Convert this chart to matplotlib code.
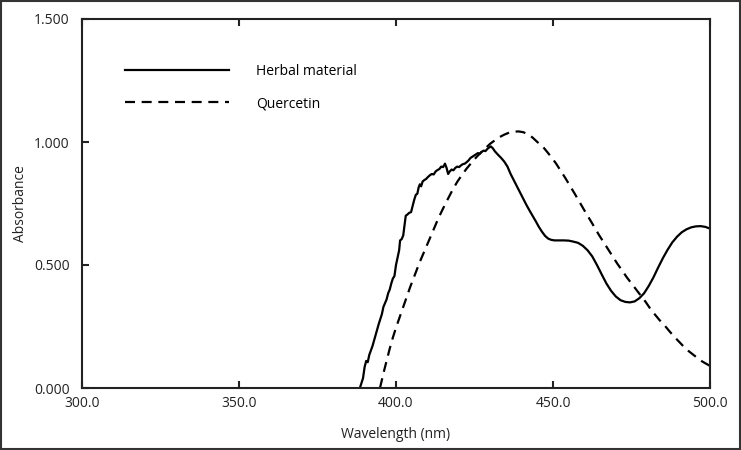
import matplotlib
matplotlib.use('Agg')
import matplotlib.pyplot as plt
from matplotlib.patches import Rectangle

plt.rcParams['font.family'] = ['Open Sans', 'DejaVu Sans']

# Herbal material spectrum
herbal_nm = [388.5, 389.5, 390.0, 390.5, 391.0, 391.5, 392.5, 393.5, 394.5, 395.5,
             396.0, 397.0, 397.5, 398.0, 398.5, 399.0, 399.5, 400.0, 400.5, 401.0,
             401.3, 401.8, 402.3, 402.7, 403.1, 403.6, 404.2, 404.8, 405.3, 405.8,
             406.3, 406.8, 407.2, 407.6, 408.0, 408.5, 409.0, 409.6, 410.2, 410.8,
             411.4, 412.0, 412.6, 413.2, 413.8, 414.4, 415.0, 415.6, 416.1, 416.6,
             417.1, 417.7, 418.3, 418.9, 419.5, 420.1, 420.7, 421.3, 421.9, 422.5,
             423.1, 423.7, 424.3, 424.9, 425.5, 426.1, 426.7, 427.3, 427.9, 428.5,
             429.1, 429.7, 430.2, 430.8, 431.5, 432.5, 433.5, 434.5, 435.5, 436.5,
             437.5, 438.5, 439.5, 440.5, 441.5, 442.5, 443.5, 444.5, 445.5, 446.5,
             447.5, 448.5, 449.5, 450.5, 452.0, 453.5, 455.0, 456.5, 458.0, 459.5,
             461.0, 462.5, 464.0, 465.5, 467.0, 468.5, 470.0, 471.5, 473.0, 474.5,
             476.0, 477.5, 479.0, 480.5, 482.0, 483.5, 485.0, 486.5, 488.0, 489.5,
             491.0, 492.5, 494.0, 495.5, 497.0, 498.5, 500.0]
herbal_abs = [0.000, 0.040, 0.085, 0.110, 0.105, 0.135, 0.170, 0.215, 0.260, 0.300,
              0.330, 0.360, 0.385, 0.400, 0.425, 0.445, 0.455, 0.500, 0.530, 0.560,
              0.600, 0.605, 0.620, 0.660, 0.700, 0.705, 0.712, 0.715, 0.740, 0.765,
              0.785, 0.790, 0.815, 0.828, 0.820, 0.840, 0.845, 0.850, 0.858, 0.865,
              0.870, 0.868, 0.880, 0.886, 0.890, 0.900, 0.898, 0.912, 0.895, 0.870,
              0.880, 0.888, 0.885, 0.895, 0.900, 0.898, 0.905, 0.910, 0.912, 0.918,
              0.925, 0.935, 0.940, 0.945, 0.950, 0.955, 0.952, 0.960, 0.965, 0.963,
              0.972, 0.978, 0.982, 0.975, 0.962, 0.948, 0.935, 0.920, 0.900, 0.870,
              0.845, 0.820, 0.795, 0.770, 0.745, 0.722, 0.700, 0.678, 0.655, 0.635,
              0.618, 0.607, 0.602, 0.600, 0.600, 0.600, 0.599, 0.595, 0.590, 0.578,
              0.560, 0.535, 0.500, 0.462, 0.425, 0.395, 0.372, 0.357, 0.350, 0.348,
              0.352, 0.365, 0.385, 0.415, 0.450, 0.490, 0.528, 0.562, 0.592, 0.615,
              0.633, 0.645, 0.653, 0.657, 0.658, 0.655, 0.648]

# Quercetin spectrum
querc_nm = [394.9, 396.0, 397.0, 398.0, 399.0, 400.0, 401.5, 403.0, 404.5, 406.0,
            407.5, 409.0, 410.5, 412.0, 413.5, 415.0, 416.5, 418.0, 419.5, 421.0,
            422.5, 424.0, 425.5, 427.0, 428.5, 430.0, 431.5, 433.0, 434.5, 436.0,
            437.5, 439.0, 440.5, 442.0, 443.5, 445.0, 446.5, 448.0, 449.5, 451.0,
            452.5, 454.0, 455.5, 457.0, 458.5, 460.0, 461.5, 463.0, 464.5, 466.0,
            467.5, 469.0, 470.5, 472.0, 473.5, 475.0, 476.5, 478.0, 479.5, 481.0,
            482.5, 484.0, 485.5, 487.0, 488.5, 490.0, 491.5, 493.0, 494.5, 496.0,
            497.5, 499.0, 500.0]
querc_abs = [0.000, 0.060, 0.110, 0.160, 0.205, 0.245, 0.300, 0.355, 0.410, 0.460,
             0.510, 0.555, 0.600, 0.645, 0.690, 0.730, 0.768, 0.805, 0.838, 0.866,
             0.892, 0.915, 0.937, 0.957, 0.975, 0.993, 1.007, 1.020, 1.030, 1.038,
             1.042, 1.043, 1.040, 1.032, 1.018, 1.000, 0.985, 0.962, 0.938, 0.912,
             0.882, 0.852, 0.820, 0.788, 0.755, 0.722, 0.690, 0.658, 0.625, 0.595,
             0.565, 0.535, 0.505, 0.478, 0.450, 0.425, 0.400, 0.375, 0.350, 0.322,
             0.298, 0.275, 0.255, 0.232, 0.210, 0.190, 0.170, 0.152, 0.137, 0.122,
             0.108, 0.097, 0.090]

x_ticks = [300, 350, 400, 450, 500]
y_ticks = [0.0, 0.5, 1.0, 1.5]

fig = plt.figure(figsize=(7.41, 4.50), dpi=100)
ax = fig.add_axes([82 / 741, 62 / 450, 628 / 741, 369 / 450])

ax.plot(herbal_nm, herbal_abs, color='black', lw=1.6, label='Herbal material')
ax.plot(querc_nm, querc_abs, color='black', lw=1.6, dashes=(4.5, 3), label='Quercetin')

ax.set_xlim(300, 500)
ax.set_ylim(0, 1.5)
ax.set_xticks(x_ticks)
ax.set_xticklabels([f'{t:.1f}' for t in x_ticks])
ax.set_yticks(y_ticks)
ax.set_yticklabels([f'{t:.3f}' for t in y_ticks])
ax.tick_params(direction='in', length=5, width=1.5, labelsize=10, colors='#222222',
               top=True, right=False, pad=6)
ax.tick_params(axis='y', pad=9)
for s in ax.spines.values():
    s.set_linewidth(1.5)
    s.set_color('#222222')

ax.set_xlabel('Wavelength (nm)', fontsize=10, color='#222222', labelpad=11)
ax.set_ylabel('Absorbance', fontsize=10, color='#222222', labelpad=4)

leg = ax.legend(loc='upper left', bbox_to_anchor=(0.06, 0.894), frameon=False,
                fontsize=10, handlelength=7.5, handletextpad=1.9, labelspacing=1.25,
                borderaxespad=0)

fig.patches.append(Rectangle((0.001, 0.002), 0.997, 0.996, transform=fig.transFigure,
                             fill=False, edgecolor='#333333', lw=1.5))

fig.savefig('out.png', dpi=100)
